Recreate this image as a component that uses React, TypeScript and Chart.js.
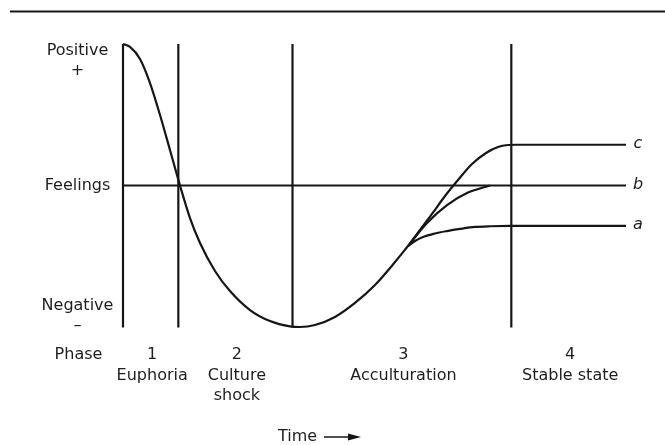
import React, { useEffect, useRef } from "react";
import { Chart, registerables } from "chart.js";

Chart.register(...registerables);

// ---- Data ----
const phaseBounds = [0, 11.0, 33.7, 77.2, 100];
const phaseNumbers = ["1", "2", "3", "4"];
const phaseNames = [["Euphoria"], ["Culture", "shock"], ["Acculturation"], ["Stable state"]];
const phaseTitle = "Phase";
const feelingLevels = [1, 0, -1];
const feelingLabels = [["Positive", "+"], ["Feelings"], ["Negative", "–"]];
const timeLabel = "Time";

const feelingsLineX = [0, 100];
const feelingsLineY = [0, 0];

const mainX = [0, 1.39, 3.38, 5.37, 7.36, 9.34, 11.33, 13.32, 15.31, 18.29, 21.27, 25.25, 29.22, 33.2, 35.19, 38.17, 42.15, 46.12, 50.1, 54.08, 56.66];
const mainY = [1.0, 0.979, 0.894, 0.724, 0.498, 0.251, 0.0, -0.23, -0.406, -0.604, -0.746, -0.88, -0.958, -0.996, -1.0, -0.986, -0.929, -0.83, -0.703, -0.541, -0.428];

const branchCX = [56.66, 59.05, 61.43, 64.02, 66.6, 69.38, 72.17, 74.55, 76.54, 78.13, 100];
const branchCY = [-0.428, -0.314, -0.201, -0.074, 0.039, 0.152, 0.23, 0.272, 0.286, 0.288, 0.288];
const branchBX = [56.66, 60.44, 64.41, 68.39, 72.96];
const branchBY = [-0.428, -0.265, -0.138, -0.053, 0.0];
const branchAX = [56.66, 58.05, 59.64, 62.03, 64.41, 67.0, 69.98, 72.96, 76.94, 100];
const branchAY = [-0.428, -0.392, -0.364, -0.339, -0.322, -0.307, -0.293, -0.288, -0.286, -0.286];

const outcomeLabels = ["a", "b", "c"];
const outcomeLevels = [branchAY[branchAY.length - 1], 0, branchCY[branchCY.length - 1]];

const INK = "#161616";
const FONT = "DejaVu Sans";

const pts = (xs: number[], ys: number[]) => xs.map((x, i) => ({ x, y: ys[i] }));

const lineDs = (xs: number[], ys: number[], curved: boolean) => ({
  data: pts(xs, ys),
  showLine: true,
  borderColor: INK,
  borderWidth: 2.2,
  pointRadius: 0,
  fill: false,
  clip: false as any,
  tension: 0,
  cubicInterpolationMode: curved ? ("monotone" as const) : ("default" as const),
});

const textPlugin = {
  id: "diagramText",
  beforeDraw(chart: any) {
    const ctx = chart.ctx;
    ctx.save();
    ctx.fillStyle = "#ffffff";
    ctx.fillRect(0, 0, chart.width, chart.height);
    // top rule
    ctx.strokeStyle = INK;
    ctx.lineWidth = 2;
    ctx.beginPath();
    ctx.moveTo(10, 11.5);
    ctx.lineTo(chart.width, 11.5);
    ctx.stroke();
    ctx.restore();
  },
  afterDatasetsDraw(chart: any) {
    const ctx = chart.ctx;
    const xs = chart.scales.x;
    const ys = chart.scales.y;
    const area = chart.chartArea;
    ctx.save();
    ctx.fillStyle = "#1e1e1e";
    ctx.font = `16px "${FONT}"`;
    ctx.textAlign = "center";
    ctx.textBaseline = "middle";
    const labelX = area.left - 45.5;

    // feeling labels
    const yTop = ys.getPixelForValue(feelingLevels[0]);
    ctx.fillText(feelingLabels[0][0], labelX, yTop + 7);
    ctx.fillText(feelingLabels[0][1], labelX, yTop + 27);
    ctx.fillText(feelingLabels[1][0], labelX, ys.getPixelForValue(feelingLevels[1]));
    const yBot = ys.getPixelForValue(feelingLevels[2]);
    ctx.fillText(feelingLabels[2][0], labelX, yBot - 21);
    ctx.fillText(feelingLabels[2][1], labelX, yBot - 1);

    // phase row
    const rowY = area.bottom + 28;
    ctx.fillText(phaseTitle, labelX + 1, rowY);
    for (let i = 0; i < phaseNumbers.length; i++) {
      const cx = (xs.getPixelForValue(phaseBounds[i]) + xs.getPixelForValue(phaseBounds[i + 1])) / 2 + 1.5;
      ctx.fillText(phaseNumbers[i], cx, rowY);
      phaseNames[i].forEach((t, j) => ctx.fillText(t, cx, rowY + 21 + j * 20));
    }

    // time label with arrow
    const tY = area.bottom + 110;
    ctx.textAlign = "left";
    ctx.fillText(timeLabel, 278, tY);
    ctx.strokeStyle = INK;
    ctx.lineWidth = 1.5;
    ctx.beginPath();
    ctx.moveTo(324, tY);
    ctx.lineTo(352, tY);
    ctx.stroke();
    ctx.fillStyle = INK;
    ctx.beginPath();
    ctx.moveTo(361, tY);
    ctx.lineTo(348, tY - 3.5);
    ctx.lineTo(348, tY + 3.5);
    ctx.closePath();
    ctx.fill();

    // outcome labels
    ctx.fillStyle = "#1e1e1e";
    ctx.font = `italic 16px "${FONT}"`;
    ctx.textAlign = "center";
    outcomeLabels.forEach((t, i) => {
      ctx.fillText(t, area.right + 12, ys.getPixelForValue(outcomeLevels[i]) - 1);
    });
    ctx.restore();
  },
};

export default function App() {
  const ref = useRef<HTMLCanvasElement | null>(null);
  useEffect(() => {
    document.body.style.margin = "0";
    const canvas = ref.current;
    if (!canvas) return;
    const datasets: any[] = [];
    phaseBounds.slice(0, 4).forEach((b) => datasets.push(lineDs([b, b], [-1.004, 1], false)));
    datasets.push(lineDs(feelingsLineX, feelingsLineY, false));
    datasets.push(lineDs(mainX, mainY, true));
    datasets.push(lineDs(branchCX, branchCY, true));
    datasets.push(lineDs(branchBX, branchBY, true));
    datasets.push(lineDs(branchAX, branchAY, true));

    const chart = new Chart(canvas, {
      type: "scatter",
      data: { datasets },
      options: {
        animation: false,
        responsive: false,
        devicePixelRatio: 1,
        events: [],
        layout: { padding: { left: 123, right: 39, top: 44, bottom: 118 } },
        plugins: { legend: { display: false }, tooltip: { enabled: false } },
        scales: {
          x: { type: "linear", min: 0, max: 100, display: false },
          y: { type: "linear", min: -1, max: 1, display: false },
        },
      },
      plugins: [textPlugin],
    });
    return () => chart.destroy();
  }, []);
  return (
    <div style={{ width: 665, height: 445 }}>
      <canvas ref={ref} width={665} height={445} style={{ display: "block" }} />
    </div>
  );
}
